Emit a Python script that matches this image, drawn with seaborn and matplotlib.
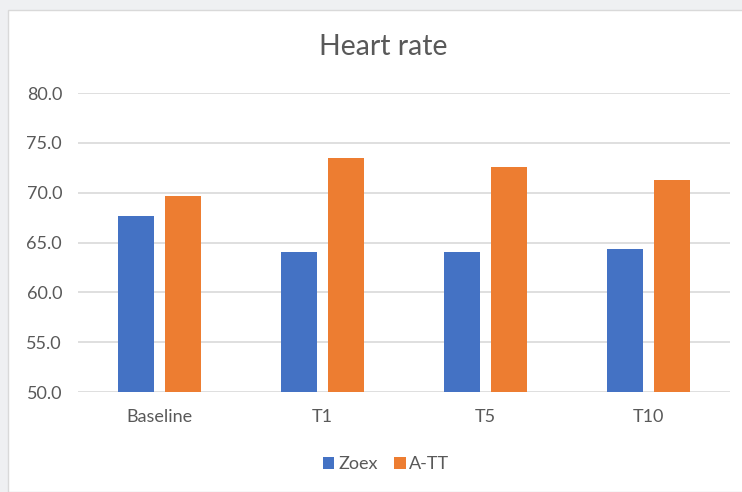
import matplotlib
matplotlib.use('Agg')
import matplotlib.pyplot as plt
import pandas as pd
import seaborn as sns
from matplotlib.patches import Rectangle

# values
timepoints = ['Baseline', 'T1', 'T5', 'T10']
zoex = [67.7, 64.0, 64.0, 64.3]
att = [69.7, 73.5, 72.6, 71.3]
groups = ['Zoex', 'A-TT']
yticks = [50, 55, 60, 65, 70, 75, 80]

df = pd.DataFrame({
    'Time': timepoints * 2,
    'HR': zoex + att,
    'Group': [groups[0]] * len(zoex) + [groups[1]] * len(att),
})

sns.set_style('white')
plt.rcParams['font.family'] = ['Lato', 'DejaVu Sans']

fig = plt.figure(figsize=(7.42, 4.92), dpi=100, facecolor='#eff0f2')
# white chart area with faint border, like the Excel frame
fig.patches.append(Rectangle((8 / 742, 0), 1, 1 - 10 / 492, transform=fig.transFigure,
                             facecolor='white', edgecolor='#d9d9d9', linewidth=1, zorder=-10))

ax = fig.add_axes([78 / 742, 100 / 492, 652 / 742, 299 / 492])
ax.set_facecolor('none')
sns.barplot(data=df, x='Time', y='HR', hue='Group', order=timepoints, hue_order=groups,
            palette=['#4472C4', '#ED7D31'], width=0.57, gap=0.22, saturation=1, ax=ax,
            linewidth=0, zorder=3)

ax.set_ylim(50, 80)
ax.set_yticks(yticks)
ax.set_yticklabels([f'{v:.1f}' for v in yticks])
ax.yaxis.grid(True, color='#d9d9d9', linewidth=1.2, zorder=0)
ax.set_axisbelow(True)
ax.set_xlim(-0.5, len(timepoints) - 0.5)
for s in ax.spines.values():
    s.set_visible(False)
ax.tick_params(axis='y', length=0, pad=11.5, labelsize=13, labelcolor='#595959')
ax.tick_params(axis='x', length=0, pad=12, labelsize=13, labelcolor='#595959')
ax.set_xlabel('')
ax.set_ylabel('')

fig.text(383 / 742, 1 - 47 / 492, 'Heart rate', ha='center', va='center',
         fontsize=20.5, color='#595959')

handles, labels = ax.get_legend_handles_labels()
ax.legend_.remove()
fig.legend(handles, labels, loc='center', bbox_to_anchor=(386 / 742, 1 - 464 / 492),
           ncol=2, frameon=False, fontsize=13, handlelength=0.65, handleheight=0.65,
           handletextpad=0.2, columnspacing=0.9, labelcolor='#595959')

fig.savefig('out.png', dpi=100, facecolor=fig.get_facecolor())
